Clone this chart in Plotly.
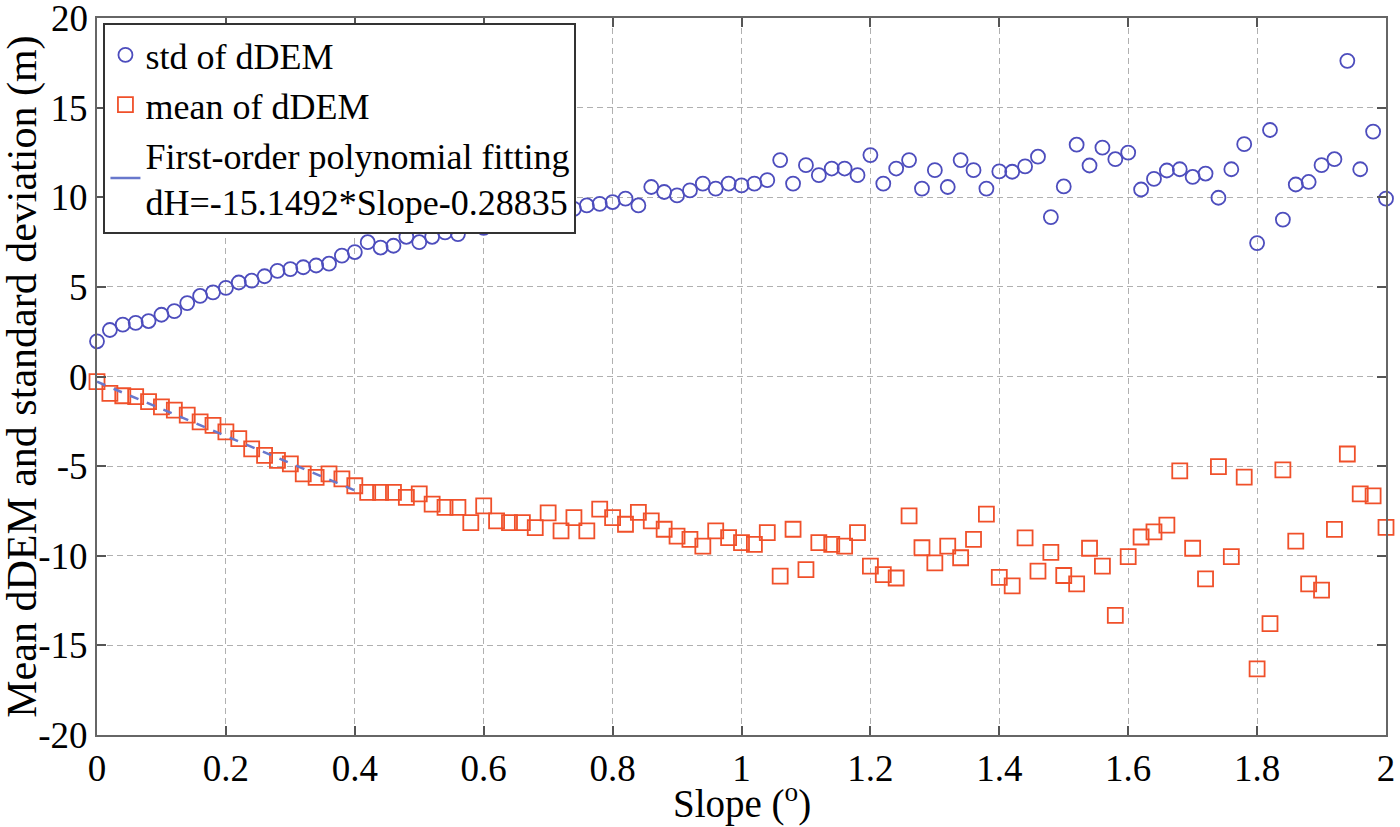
import plotly.graph_objects as go

# slope bins, 0 to 2 degrees every 0.02
slope = [round(i * 0.02, 2) for i in range(101)]

std_ddem = [1.97, 2.6, 2.9, 3.0, 3.1, 3.45, 3.65, 4.1, 4.5, 4.7,
            4.95, 5.25, 5.35, 5.6, 5.9, 6.0, 6.1, 6.2, 6.3, 6.75,
            6.95, 7.5, 7.2, 7.3, 7.8, 7.5, 7.8, 8.05, 7.95, 8.5,
            8.3, 8.7, 8.8, 8.9, 9.0, 8.8, 9.08, 9.36, 9.55, 9.64,
            9.74, 9.93, 9.55, 10.58, 10.3, 10.11, 10.39, 10.77, 10.49, 10.77,
            10.67, 10.77, 10.96, 12.08, 10.77, 11.8, 11.24, 11.61, 11.61, 11.24,
            12.36, 10.77, 11.61, 12.08, 10.49, 11.52, 10.58, 12.08, 11.52, 10.49,
            11.45, 11.43, 11.73, 12.27, 8.9, 10.61, 12.94, 11.78, 12.78, 12.13,
            12.5, 10.44, 11.03, 11.5, 11.57, 11.14, 11.33, 9.98, 11.57, 12.97,
            7.45, 13.76, 8.76, 10.72, 10.86, 11.8, 12.13, 17.62, 11.57, 13.67,
            9.93]

mean_ddem = [-0.28, -0.94, -1.07, -1.12, -1.4, -1.69, -1.87, -2.15, -2.53, -2.72,
             -3.09, -3.46, -4.03, -4.4, -4.68, -4.87, -5.43, -5.62, -5.43, -5.71,
             -6.09, -6.46, -6.46, -6.46, -6.74, -6.55, -7.12, -7.3, -7.3, -8.15,
             -7.21, -8.05, -8.15, -8.15, -8.43, -7.6, -8.61, -7.87, -8.61, -7.4,
             -7.87, -8.24, -7.58, -8.05, -8.52, -8.9, -9.08, -9.46, -8.61, -8.99,
             -9.27, -9.36, -8.71, -11.14, -8.52, -10.77, -9.27, -9.36, -9.46, -8.71,
             -10.58, -11.05, -11.24, -7.77, -9.55, -10.39, -9.46, -10.11, -9.08, -7.68,
             -11.2, -11.68, -9.0, -10.86, -9.81, -11.1, -11.57, -9.58, -10.58, -13.32,
             -10.05, -8.95, -8.67, -8.29, -5.26, -9.58, -11.29, -5.02, -10.05, -5.61,
             -16.31, -13.79, -5.21, -9.18, -11.57, -11.92, -8.53, -4.32, -6.54, -6.66,
             -8.41]

# fitted line dH = -15.1492*Slope - 0.28835, drawn over 0-0.4
fit_x = [0, 0.4]
fit_y = [-0.288, -6.348]

x_ticks = [0, 0.2, 0.4, 0.6, 0.8, 1, 1.2, 1.4, 1.6, 1.8, 2]
x_labels = ['0', '0.2', '0.4', '0.6', '0.8', '1', '1.2', '1.4', '1.6', '1.8', '2']
y_ticks = [-20, -15, -10, -5, 0, 5, 10, 15, 20]
y_labels = ['-20', '-15', '-10', '-5', '0', '5', '10', '15', '20']

serif = 'Liberation Serif, Times New Roman, serif'

fig = go.Figure()

fig.add_trace(go.Scatter(x=slope, y=std_ddem, mode='markers', name='std of dDEM',
                         cliponaxis=False,
                         marker=dict(symbol='circle-open', size=14, color='#4d4dbd',
                                     line=dict(width=1.8, color='#4d4dbd'))))
fig.add_trace(go.Scatter(x=slope, y=mean_ddem, mode='markers', name='mean of dDEM',
                         cliponaxis=False,
                         marker=dict(symbol='square-open', size=15, color='#f0502a',
                                     line=dict(width=1.8, color='#f0502a'))))
fig.add_trace(go.Scatter(x=fit_x, y=fit_y, mode='lines', showlegend=False,
                         line=dict(color='#6878cc', width=2.5, dash='dash')))
# legend entry for the fit (solid sample as in the figure)
fig.add_trace(go.Scatter(x=[None], y=[None], mode='lines',
                         name='First-order polynomial fitting<br>dH=-15.1492*Slope-0.28835',
                         line=dict(color='#6878cc', width=2.5)))

axis_style = dict(showline=True, linecolor='#666666', linewidth=2, mirror='ticks',
                  ticks='inside', ticklen=9, tickwidth=2, tickcolor='#555555',
                  showgrid=True, gridcolor='#b0b0b0', gridwidth=1, griddash='6px,4px',
                  zeroline=False, automargin=False,
                  tickfont=dict(family=serif, size=37, color='black'))

fig.update_xaxes(range=[0, 2], tickvals=x_ticks, ticktext=x_labels, **axis_style)
# top label is written separately below, plotly drops it at the frame edge
fig.update_yaxes(range=[-20, 20.01], tickvals=y_ticks, ticktext=y_labels[:-1] + [''],
                 **axis_style)

fig.add_annotation(text=y_labels[-1], xref='paper', yref='y', x=0, y=y_ticks[-1],
                   xanchor='right', yanchor='middle', xshift=-7, showarrow=False,
                   font=dict(family=serif, size=37, color='black'))
fig.add_annotation(text='Slope (<sup>o</sup>)', xref='paper', yref='paper',
                   x=0.5, y=-0.093, xanchor='center', yanchor='middle', showarrow=False,
                   font=dict(family=serif, size=39, color='black'))
fig.add_annotation(text='Mean dDEM and standard deviation (m)', xref='paper', yref='paper',
                   x=-0.058, y=0.5, xanchor='center', yanchor='middle', showarrow=False,
                   textangle=-90, font=dict(family=serif, size=42, color='black'))

fig.update_layout(width=1400, height=827,
                  margin=dict(l=97, r=14, t=18, b=92),
                  plot_bgcolor='white', paper_bgcolor='white',
                  font=dict(family=serif, color='black'),
                  legend=dict(x=0.005, y=0.993, xanchor='left', yanchor='top',
                              bgcolor='white', bordercolor='#333333', borderwidth=2,
                              font=dict(family=serif, size=36, color='black'),
                              tracegroupgap=0, itemwidth=30))

# drop the default page margin so the figure sits at the window corner
fig.write_html('out.html', config={'displayModeBar': False},
               post_script="document.body.style.margin='0px';")
